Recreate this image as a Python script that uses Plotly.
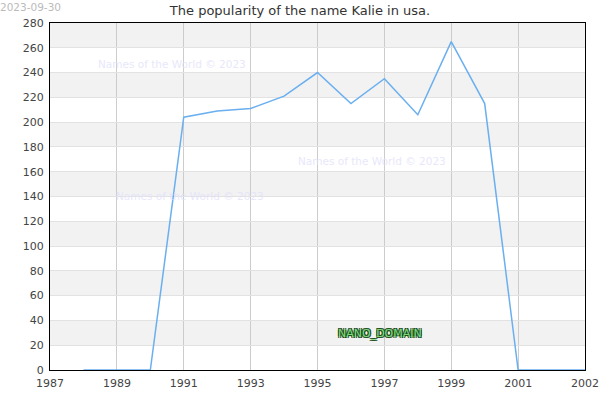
import plotly.graph_objects as go

years = [1988, 1989, 1990, 1991, 1992, 1993, 1994, 1995, 1996, 1997, 1998, 1999, 2000, 2001, 2002, 2003]
counts = [0, 0, 0, 204, 209, 211, 221, 240, 215, 235, 206, 265, 215, 0, 0, 0]
x_tickvals = [1987, 1989, 1991, 1993, 1995, 1997, 1999, 2001, 2003]
x_ticktext = ["1987", "1989", "1991", "1993", "1995", "1997", "1999", "2001", "2002"]
y_ticks = list(range(0, 281, 20))
title_text = "The popularity of the name Kalie in usa."
date_text = "2023-09-30"
watermark = "Names of the World © 2023"

fig = go.Figure()
fig.add_trace(go.Scatter(x=years, y=counts, mode="lines",
                         line=dict(color="#6aaff0", width=1.5), hoverinfo="x+y"))

shapes = []
for lo in range(20, 280, 40):
    shapes.append(dict(type="rect", xref="paper", yref="y", x0=0, x1=1, y0=lo, y1=lo + 20,
                       fillcolor="#f2f2f2", line=dict(width=0), layer="below"))
fig.update_layout(shapes=shapes)

fig.update_layout(
    width=600, height=400,
    margin=dict(l=50, r=15, t=23, b=30),
    paper_bgcolor="white", plot_bgcolor="white",
    showlegend=False,
    font=dict(family="DejaVu Sans", size=11, color="#444"),
    title=dict(text=title_text, x=0.5, xanchor="center", y=0.985, yanchor="top",
               font=dict(size=13, color="#333")),
    xaxis=dict(range=[1987, 2003], tickmode="array", tickvals=x_tickvals, ticktext=x_ticktext,
               showgrid=True, gridcolor="#cccccc", gridwidth=1,
               showline=True, linecolor="black", linewidth=1, mirror=True,
               ticks="", zeroline=False, fixedrange=True, ticklabelstandoff=3,
               automargin=False),
    yaxis=dict(range=[0, 280], tickmode="array", tickvals=y_ticks,
               showgrid=True, gridcolor="#e2e2e2", gridwidth=1,
               showline=True, linecolor="black", linewidth=1, mirror=True,
               ticks="", zeroline=False, fixedrange=True, ticklabelstandoff=3,
               automargin=False),
)

fig.add_annotation(text=date_text, xref="paper", yref="paper", x=-0.097, y=1.07,
                   xanchor="left", yanchor="top", showarrow=False,
                   font=dict(size=10.5, color="#bbbbbb"))
for (px, py) in [(172, 64), (372, 161), (190, 196)]:
    fig.add_annotation(text=watermark, x=(px - 50) / 535, y=(370 - py) / 347,
                       xref="paper", yref="paper", showarrow=False,
                       xanchor="center", yanchor="middle",
                       font=dict(size=10.5, color="rgba(225,225,250,0.8)"))
fig.add_annotation(text="NANO_DOMAIN", x=(380 - 50) / 535, y=(370 - 333) / 347,
                   xref="paper", yref="paper", showarrow=False,
                   xanchor="center", yanchor="middle",
                   font=dict(size=11, color="#7cdc7c",
                             shadow="-1px -1px 0 #1a4d1a, 1px -1px 0 #1a4d1a, -1px 1px 0 #1a4d1a, 1px 1px 0 #1a4d1a"))

fig.write_html("out.html")
